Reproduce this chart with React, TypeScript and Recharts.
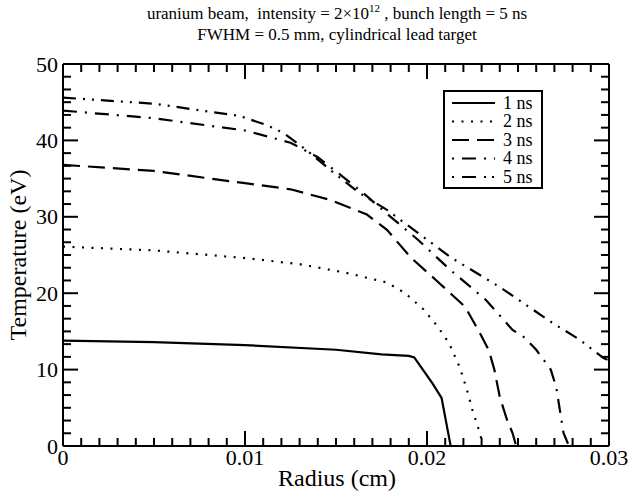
import { LineChart, Line, XAxis, YAxis } from 'recharts'

const FONT = '"Liberation Serif", "Times New Roman", Times, serif'

// radius (cm) / temperature (eV)
const radius1 = [0, 0.005, 0.01, 0.015, 0.0175, 0.019, 0.0193, 0.0198, 0.0203, 0.0208, 0.0213]
const temp1 = [13.8, 13.6, 13.2, 12.6, 12.0, 11.8, 11.6, 9.9, 8.2, 6.3, 0]

const radius2 = [0, 0.005, 0.01, 0.013, 0.0155, 0.0178, 0.0188, 0.0198, 0.0206, 0.0212, 0.0218, 0.0222, 0.0225, 0.0229, 0.0231]
const temp2 = [26.1, 25.6, 24.6, 23.8, 22.7, 21.4, 20.0, 17.9, 15.6, 13.5, 10.3, 7.3, 4.7, 1.7, 0]

const radius3 = [0, 0.005, 0.01, 0.0125, 0.0147, 0.0167, 0.0178, 0.0191, 0.0205, 0.0221, 0.0229, 0.0234, 0.0237, 0.024, 0.0244, 0.0247, 0.0249]
const temp3 = [36.8, 36.0, 34.4, 33.6, 32.2, 30.3, 28.3, 24.7, 21.7, 18.2, 14.8, 12.5, 10.0, 6.4, 3.4, 1.7, 0]

const radius4 = [0, 0.005, 0.01, 0.0125, 0.014, 0.0154, 0.0165, 0.018, 0.0195, 0.0213, 0.0232, 0.0247, 0.0253, 0.026, 0.0268, 0.0271, 0.0273, 0.0275, 0.0278]
const temp4 = [43.9, 42.9, 41.3, 39.7, 37.8, 35.2, 33.1, 30.0, 27.0, 23.0, 19.2, 15.2, 14.3, 12.6, 10.0, 7.7, 4.7, 1.7, 0]

const radius5 = [0, 0.005, 0.0097, 0.0112, 0.0121, 0.0134, 0.0148, 0.0163, 0.0178, 0.0195, 0.0213, 0.0231, 0.024, 0.0253, 0.0269, 0.0284, 0.0297, 0.03]
const temp5 = [45.6, 44.8, 43.2, 42.0, 41.0, 38.7, 35.9, 33.1, 30.9, 27.9, 24.7, 22.1, 20.8, 18.7, 16.1, 13.9, 11.5, 11.2]

const seriesNames = ['1 ns', '2 ns', '3 ns', '4 ns', '5 ns']
const seriesDash = ['', '2 7.5', '17 8', '14 8 2 8', '13 7 2 7 2 7']
const legendDash = ['', '2 7.5', '17 8', '2 8 14 8', '2 8 14 8 2 6']

const xMajor = [0, 0.01, 0.02, 0.03]
const xLabels = ['0', '0.01', '0.02', '0.03']
const yMajor = [0, 10, 20, 30, 40, 50]
const yLabels = ['0', '10', '20', '30', '40', '50']

const zip = (xs: number[], ys: number[]) => xs.map((x, i) => ({ x, y: ys[i] }))
const series = [zip(radius1, temp1), zip(radius2, temp2), zip(radius3, temp3), zip(radius4, temp4), zip(radius5, temp5)]

// majors plus evenly spaced minor ticks in between
function withMinor(major: number[], n: number) {
    const out: number[] = []
    for (let i = 0; i < major.length - 1; i++) {
        for (let k = 0; k < n; k++) out.push(major[i] + (k * (major[i + 1] - major[i])) / n)
    }
    out.push(major[major.length - 1])
    return out
}
const xTicks = withMinor(xMajor, 10)
const yTicks = withMinor(yMajor, 6)

const majorIndex = (v: number, major: number[]) => major.findIndex(m => Math.abs(m - v) < 1e-9)

const BIG = 15
const SMALL = 8

function BottomTick({ x, y, payload }: any) {
    const i = majorIndex(payload.value, xMajor)
    return (
        <g>
            <line x1={x} y1={y} x2={x} y2={y - (i >= 0 ? BIG : SMALL)} stroke="#000" strokeWidth={2} />
            {i >= 0 && (
                <text x={x} y={y + 19} textAnchor="middle" fontSize={22} fontFamily={FONT} fill="#000">
                    {xLabels[i]}
                </text>
            )}
        </g>
    )
}

function TopTick({ x, y, payload }: any) {
    const i = majorIndex(payload.value, xMajor)
    return <line x1={x} y1={y} x2={x} y2={y + (i >= 0 ? BIG : SMALL)} stroke="#000" strokeWidth={2} />
}

function LeftTick({ x, y, payload }: any) {
    const i = majorIndex(payload.value, yMajor)
    return (
        <g>
            <line x1={x} y1={y} x2={x + (i >= 0 ? BIG : SMALL)} y2={y} stroke="#000" strokeWidth={2} />
            {i >= 0 && (
                <text x={x - 5} y={y + 7.5} textAnchor="end" fontSize={22} fontFamily={FONT} fill="#000">
                    {yLabels[i]}
                </text>
            )}
        </g>
    )
}

function RightTick({ x, y, payload }: any) {
    const i = majorIndex(payload.value, yMajor)
    return <line x1={x} y1={y} x2={x - (i >= 0 ? BIG : SMALL)} y2={y} stroke="#000" strokeWidth={2} />
}

const axisLine = { stroke: '#000', strokeWidth: 2 }

export default function App() {
    return (
        <div style={{ position: 'absolute', left: 0, top: 0, width: 630, height: 493, background: '#fff' }}>
            <LineChart width={630} height={493} margin={{ top: 63, right: 20, bottom: 46, left: 62 }}>
                <XAxis xAxisId="b" dataKey="x" type="number" domain={[0, 0.03]} ticks={xTicks} height={1}
                    tickSize={0} tickMargin={0} tickLine={false} axisLine={axisLine} tick={(p: any) => <BottomTick {...p} />}
                    interval={0} allowDataOverflow />
                <XAxis xAxisId="t" orientation="top" dataKey="x" type="number" domain={[0, 0.03]} ticks={xTicks} height={1}
                    tickSize={0} tickMargin={0} tickLine={false} axisLine={axisLine} tick={(p: any) => <TopTick {...p} />}
                    interval={0} allowDataOverflow />
                <YAxis yAxisId="l" type="number" domain={[0, 50]} ticks={yTicks} width={1}
                    tickSize={0} tickMargin={0} tickLine={false} axisLine={axisLine} tick={(p: any) => <LeftTick {...p} />}
                    interval={0} allowDataOverflow />
                <YAxis yAxisId="r" orientation="right" type="number" domain={[0, 50]} ticks={yTicks} width={1}
                    tickSize={0} tickMargin={0} tickLine={false} axisLine={axisLine} tick={(p: any) => <RightTick {...p} />}
                    interval={0} allowDataOverflow />
                {series.map((d, i) => (
                    <Line key={seriesNames[i]} xAxisId="b" yAxisId="l" data={d} dataKey="y" name={seriesNames[i]}
                        type="linear" stroke="#000" strokeWidth={2.2} strokeDasharray={seriesDash[i] || undefined}
                        dot={false} activeDot={false} isAnimationActive={false} />
                ))}
            </LineChart>
            <svg width={630} height={493} style={{ position: 'absolute', left: 0, top: 0, pointerEvents: 'none' }}>
                <g fontFamily={FONT} fill="#000">
                    <text x={337} y={19} textAnchor="middle" fontSize={17}>
                        uranium beam,{'\u00a0'} intensity = 2×10
                        <tspan dy={-7} fontSize={11}>12</tspan>
                        <tspan dy={7}> , bunch length = 5 ns</tspan>
                    </text>
                    <text x={337} y={40} textAnchor="middle" fontSize={17}>
                        FWHM = 0.5 mm, cylindrical lead target
                    </text>
                    <text x={337} y={486} textAnchor="middle" fontSize={24}>Radius (cm)</text>
                    <text transform="translate(26,255) rotate(-90)" textAnchor="middle" fontSize={24}>Temperature (eV)</text>
                </g>
                <rect x={444} y={91} width={98} height={97} fill="#fff" stroke="#000" strokeWidth={2} />
                {seriesNames.map((n, i) => {
                    const cy = 103 + i * 18.5
                    return (
                        <g key={n}>
                            <line x1={452} y1={cy} x2={495} y2={cy} stroke="#000" strokeWidth={2}
                                strokeDasharray={legendDash[i] || undefined} />
                            <text x={503} y={cy + 5.5} fontSize={18} fontFamily={FONT} fill="#000">{n}</text>
                        </g>
                    )
                })}
            </svg>
        </div>
    )
}
